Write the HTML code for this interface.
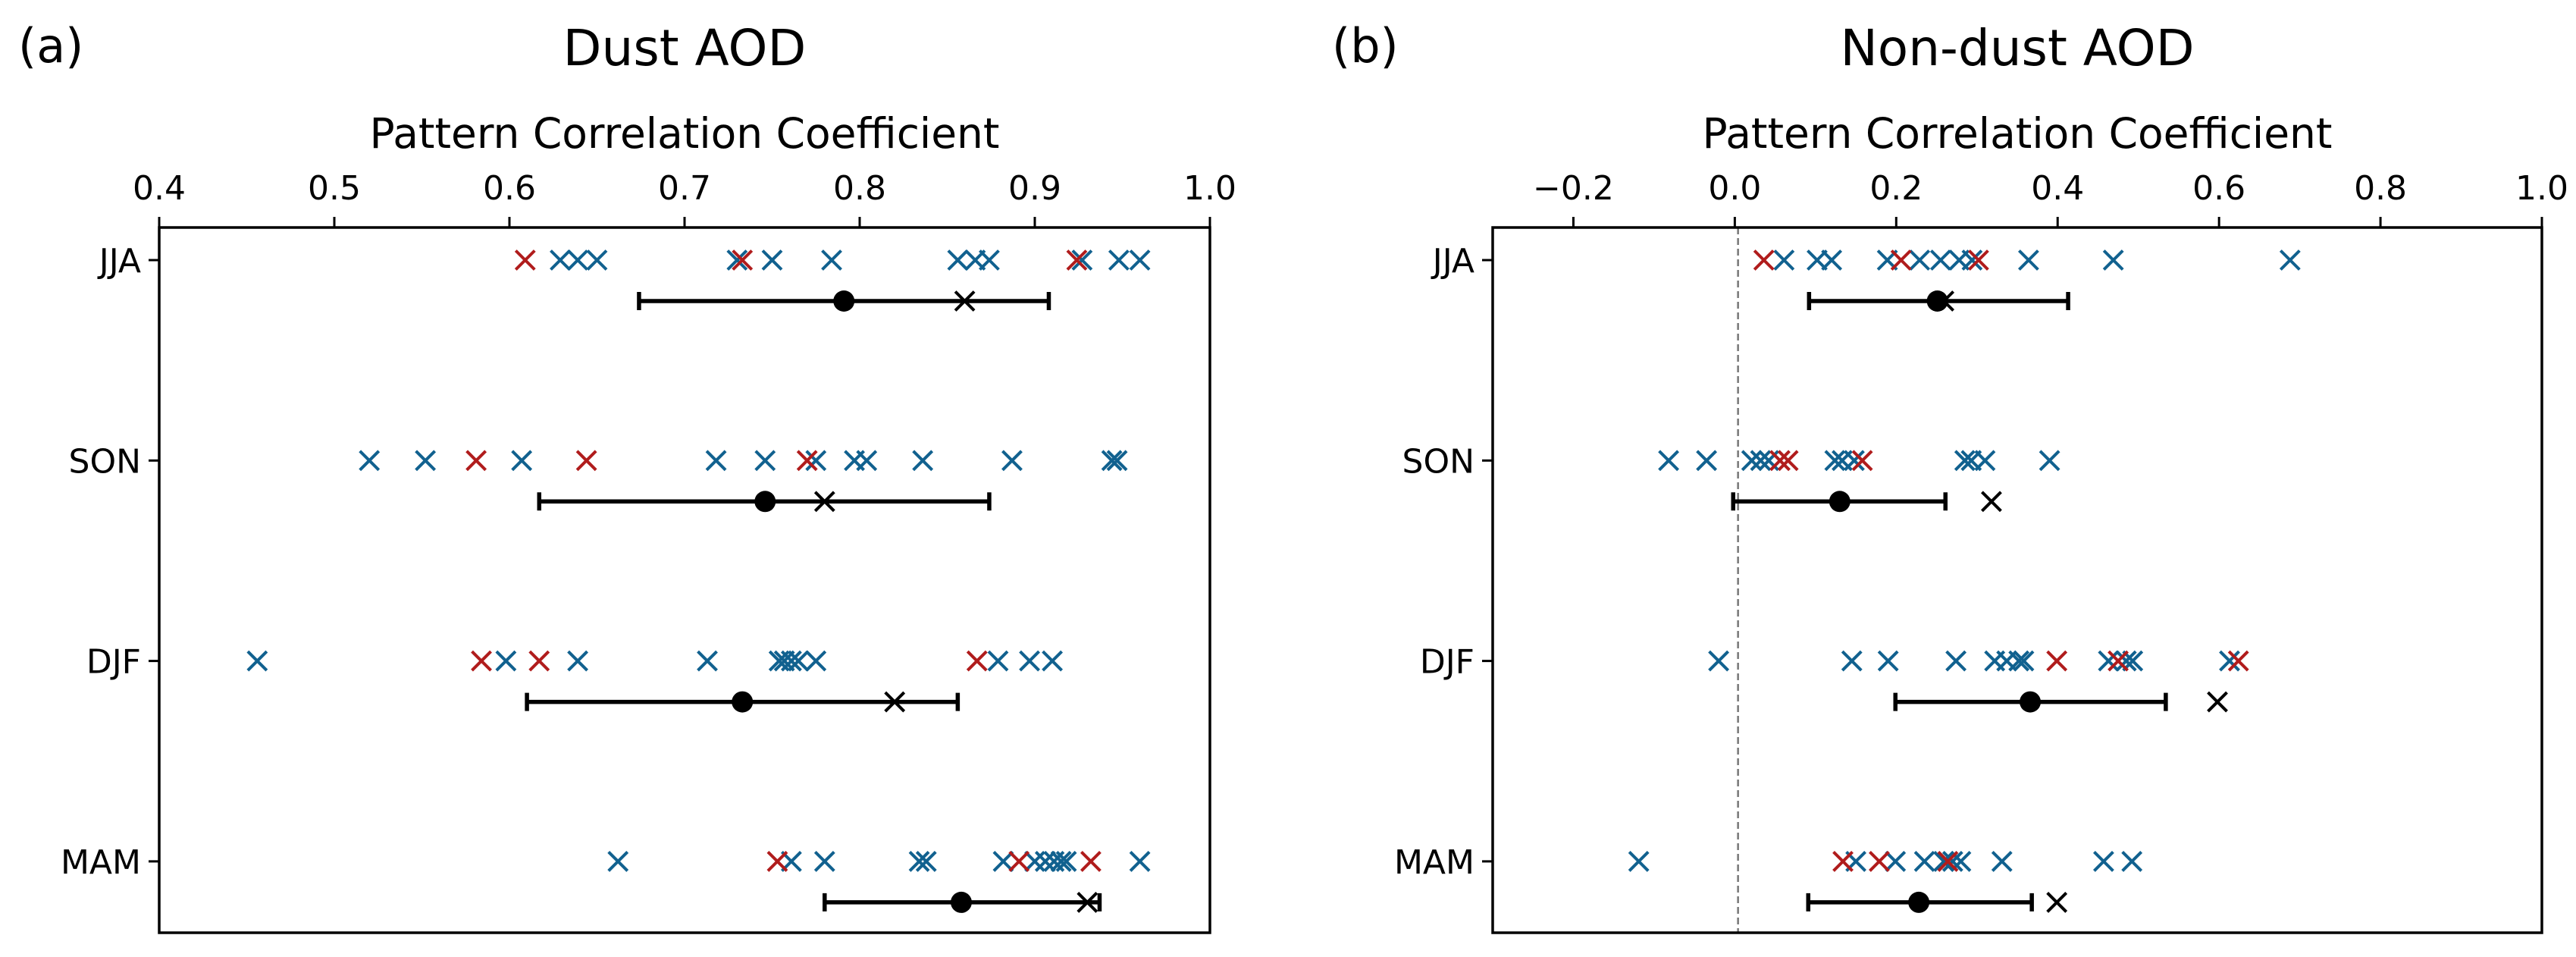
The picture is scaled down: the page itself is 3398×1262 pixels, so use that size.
<!DOCTYPE html>
<html><head><meta charset="utf-8"><style>
html,body{margin:0;padding:0;background:#fff;}
svg{display:block;font-family:"DejaVu Sans","Liberation Sans",sans-serif;}
</style></head><body>
<svg id="fig" width="3398" height="1262" viewBox="0 0 3398 1262" xmlns="http://www.w3.org/2000/svg">
<rect width="3398" height="1262" fill="#fff"/>
</svg>
<script>
const seasons = ["JJA","SON","DJF","MAM"];
// Panel a: Dust AOD
const aBlue = [
 [0.629,0.639,0.650,0.730,0.750,0.784,0.856,0.866,0.874,0.927,0.948,0.960],
 [0.520,0.552,0.607,0.718,0.746,0.775,0.797,0.804,0.836,0.887,0.944,0.947],
 [0.456,0.598,0.639,0.713,0.754,0.757,0.761,0.765,0.775,0.879,0.897,0.910],
 [0.662,0.761,0.780,0.834,0.838,0.882,0.900,0.906,0.911,0.915,0.918,0.960]
];
const aRed = [
 [0.609,0.733,0.924],
 [0.581,0.644,0.770],
 [0.584,0.617,0.867],
 [0.753,0.891,0.932]
];
const aMean = [0.791,0.746,0.733,0.858];
const aLow = [0.674,0.617,0.610,0.780];
const aHigh = [0.908,0.874,0.856,0.937];
const aEns = [0.860,0.780,0.820,0.930];
const aTicks = [0.4,0.5,0.6,0.7,0.8,0.9,1.0];
const aTickLabels = ["0.4","0.5","0.6","0.7","0.8","0.9","1.0"];
// Panel b: Non-dust AOD
const bBlue = [
 [0.061,0.102,0.120,0.189,0.229,0.255,0.278,0.294,0.364,0.469,0.688],
 [-0.082,-0.035,0.021,0.032,0.042,0.124,0.133,0.148,0.285,0.293,0.310,0.390],
 [-0.020,0.145,0.190,0.274,0.322,0.337,0.352,0.358,0.463,0.485,0.493,0.613],
 [-0.119,0.150,0.199,0.235,0.259,0.270,0.280,0.331,0.457,0.492]
];
const bRed = [
 [0.036,0.206,0.302],
 [0.056,0.066,0.158],
 [0.399,0.475,0.624],
 [0.134,0.179,0.264]
];
const bMean = [0.251,0.130,0.366,0.228];
const bLow = [0.092,-0.002,0.199,0.091];
const bHigh = [0.413,0.261,0.534,0.368];
const bEns = [0.259,0.318,0.598,0.399];
const bTicks = [-0.2,0.0,0.2,0.4,0.6,0.8,1.0];
const bTickLabels = ["\u22120.2","0.0","0.2","0.4","0.6","0.8","1.0"];

const NS="http://www.w3.org/2000/svg";
const svg=document.getElementById('fig');
function mk(tag,attrs,parent){const e=document.createElementNS(NS,tag);for(const k in attrs)e.setAttribute(k,attrs[k]);(parent||svg).appendChild(e);return e;}
const BLUE="#11618f", RED="#b01c1c";
const TOP=300,BOT=1230,Y0=343,DY=264.3,EOFF=54;

function cross(g,cx,cy,col,h){
  return mk('path',{d:`M${cx-h},${cy-h}L${cx+h},${cy+h}M${cx-h},${cy+h}L${cx+h},${cy-h}`,stroke:col,'stroke-width':4,fill:'none'},g);
}

function panel(id,L,R,xmin,xmax,ticks,tlabels,blue,red,mean,low,high,ens,letter,letterX,title,dash){
  const g=mk('g',{});
  
  
  const sx=v=>L+(v-xmin)/(xmax-xmin)*(R-L);
  const sy=i=>Y0+i*DY;
  const cx=(L+R)/2;
  let t=mk('text',{x:letterX,y:82,'font-size':62},g);t.textContent=letter;
  
  t=mk('text',{x:cx,y:86,'font-size':66,'text-anchor':'middle'},g);t.textContent=title;
  
  t=mk('text',{x:cx,y:195,'font-size':55,'text-anchor':'middle'},g);t.textContent="Pattern Correlation Coefficient";
  
  if(dash){
    const d=mk('line',{x1:sx(0.004),x2:sx(0.004),y1:TOP,y2:BOT,stroke:'#777','stroke-width':2.5,'stroke-dasharray':'9,5'},g);
    
  }
  ticks.forEach((v,i)=>{
    const x=sx(v);
    const tk=mk('line',{x1:x,x2:x,y1:TOP-14,y2:TOP,stroke:'#000','stroke-width':3},g);
    
    const tl=mk('text',{x:x,y:263,'font-size':44,'text-anchor':'middle'},g);tl.textContent=tlabels[i];
    
  });
  seasons.forEach((s,i)=>{
    const y=sy(i);
    const tk=mk('line',{x1:L-14,x2:L,y1:y,y2:y,stroke:'#000','stroke-width':3},g);
    
    const tl=mk('text',{x:L-24,y:y+16,'font-size':44,'text-anchor':'end'},g);tl.textContent=s;
    
    blue[i].forEach(v=>{const m=cross(g,sx(v),y,BLUE,12.5);});
    red[i].forEach(v=>{const m=cross(g,sx(v),y,RED,12.5);});
    const ey=y+EOFF;
    const eb=mk('path',{d:`M${sx(low[i])},${ey}L${sx(high[i])},${ey}M${sx(low[i])},${ey-12}L${sx(low[i])},${ey+12}M${sx(high[i])},${ey-12}L${sx(high[i])},${ey+12}`,stroke:'#000','stroke-width':5.5,fill:'none'},g);
    
    const dot=mk('circle',{cx:sx(mean[i]),cy:ey,r:14,fill:'#000'},g);
    
    const ex=cross(g,sx(ens[i]),ey,'#000',12.5);
    
  });
  const fr=mk('rect',{x:L,y:TOP,width:R-L,height:BOT-TOP,fill:'none',stroke:'#000','stroke-width':3.5},g);
  
}
panel('panel-dust-aod',210,1596,0.4,1.0,aTicks,aTickLabels,aBlue,aRed,aMean,aLow,aHigh,aEns,'(a)',24,'Dust AOD',false);
panel('panel-non-dust-aod',1969,3353,-0.3,1.0,bTicks,bTickLabels,bBlue,bRed,bMean,bLow,bHigh,bEns,'(b)',1757,'Non-dust AOD',true);
</script>
</body></html>
